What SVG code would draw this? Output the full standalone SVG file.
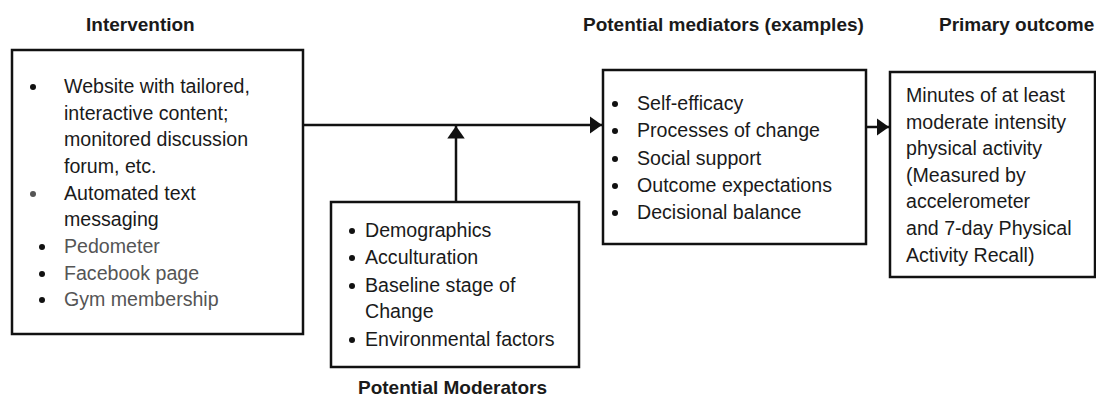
<svg xmlns="http://www.w3.org/2000/svg" width="1096" height="397" viewBox="0 0 1096 397">
<style>
.box{fill:#fff;stroke:#111;stroke-width:2.5}
.t{font-family:"Liberation Sans",Arial,sans-serif;font-size:19.6px;fill:#1a1a1a}
.g{fill:#555}
.h{font-family:"Liberation Sans",Arial,sans-serif;font-size:19px;font-weight:bold;fill:#1a1a1a}
.ln{stroke:#111;stroke-width:2.5;fill:none}
.dot{fill:#111}
</style>
<defs>
<marker id="ah" viewBox="0 0 10 14" refX="10" refY="7" markerWidth="5" markerHeight="7" orient="auto" markerUnits="strokeWidth">
<path d="M0,0 L10,7 L0,14 z" fill="#111"/>
</marker>
</defs>
<g id="titles">
<text class="h" x="86" y="31">Intervention</text>
<text class="h" x="583" y="31">Potential mediators (examples)</text>
<text class="h" x="939" y="31">Primary outcome</text>
<text class="h" x="358" y="394">Potential Moderators</text>
</g>
<g id="intervention">
<rect class="box" x="12" y="50" width="291" height="284"/>
<circle class="dot" cx="33" cy="87" r="3"/>
<circle cx="33" cy="194" r="3" fill="#555"/>
<circle class="dot" cx="42" cy="247" r="3"/>
<circle class="dot" cx="42" cy="274" r="3"/>
<circle class="dot" cx="42" cy="300" r="3"/>
<text class="t" x="64" y="93">Website with tailored,</text>
<text class="t" x="64" y="120">interactive content;</text>
<text class="t" x="64" y="146">monitored discussion</text>
<text class="t" x="64" y="173">forum, etc.</text>
<text class="t" x="64" y="200">Automated text</text>
<text class="t" x="64" y="226">messaging</text>
<text class="t g" x="64" y="253">Pedometer</text>
<text class="t g" x="64" y="280">Facebook page</text>
<text class="t g" x="64" y="306">Gym membership</text>
</g>
<g id="moderators">
<rect class="box" x="331" y="202" width="248" height="165"/>
<circle class="dot" cx="352" cy="231" r="3"/>
<circle class="dot" cx="352" cy="258" r="3"/>
<circle class="dot" cx="352" cy="286" r="3"/>
<circle class="dot" cx="352" cy="340" r="3"/>
<text class="t" x="365" y="237">Demographics</text>
<text class="t" x="365" y="264">Acculturation</text>
<text class="t" x="365" y="292">Baseline stage of</text>
<text class="t" x="365" y="318">Change</text>
<text class="t" x="365" y="346">Environmental factors</text>
</g>
<g id="mediators">
<rect class="box" x="603" y="70" width="263" height="174"/>
<circle class="dot" cx="615" cy="104" r="3"/>
<circle class="dot" cx="615" cy="131" r="3"/>
<circle class="dot" cx="615" cy="159" r="3"/>
<circle class="dot" cx="615" cy="186" r="3"/>
<circle class="dot" cx="615" cy="213" r="3"/>
<text class="t" x="637" y="110">Self-efficacy</text>
<text class="t" x="637" y="137">Processes of change</text>
<text class="t" x="637" y="165">Social support</text>
<text class="t" x="637" y="192">Outcome expectations</text>
<text class="t" x="637" y="219">Decisional balance</text>
</g>
<g id="outcome">
<rect class="box" x="890" y="72" width="205" height="205"/>
<text class="t" x="906" y="102">Minutes of at least</text>
<text class="t" x="906" y="129">moderate intensity</text>
<text class="t" x="906" y="155">physical activity</text>
<text class="t" x="906" y="182">(Measured by</text>
<text class="t" x="906" y="208">accelerometer</text>
<text class="t" x="906" y="235">and 7-day Physical</text>
<text class="t" x="906" y="262">Activity Recall)</text>
</g>
<g id="connectors">
<line class="ln" x1="303" y1="125" x2="602" y2="125" marker-end="url(#ah)"/>
<line class="ln" x1="456" y1="202" x2="456" y2="126" marker-end="url(#ah)"/>
<line class="ln" x1="866" y1="127" x2="889" y2="127" marker-end="url(#ah)"/>
</g>
</svg>
